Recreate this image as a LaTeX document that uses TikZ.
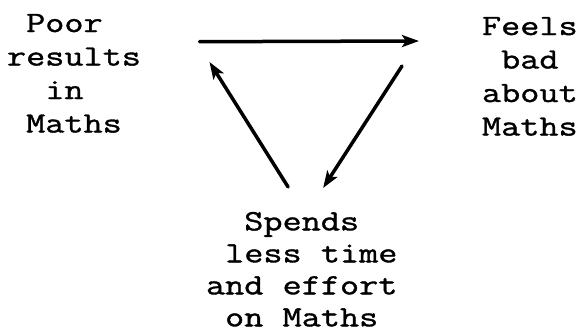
\documentclass[tikz,border=0pt]{standalone}
\usepackage{fontspec}
\setmonofont[FakeStretch=1.26, FakeBold=1.2]{Latin Modern Mono}
\usetikzlibrary{arrows.meta}
\newcommand{\chsp}{\hphantom{x}}

\begin{document}
\begin{tikzpicture}[
    x=1pt, y=1pt,
    every node/.style={inner sep=0pt, outer sep=0pt, align=left, anchor=north west,
        font=\ttfamily\fontsize{29.5}{33.5}\selectfont},
    arrow/.style={-{Stealth[length=17pt, width=12pt, inset=4pt]}, line width=3.5pt, line cap=round}
]
\useasboundingbox (0,0) rectangle (581,-332);

% Nodes
\node (poor) at (7,-14) {\chsp Poor\\results\\\chsp\chsp in\\\chsp Maths};
\node (feels) at (482,-17) {Feels\\\chsp bad\\about\\Maths};
\node (spends) [font=\ttfamily\fontsize{29.5}{32}\selectfont] at (206,-212) {\chsp\chsp Spends\\\chsp less time\\and effort\\\chsp on Maths};

% Edges
\draw[arrow] ([xshift=58.5pt, yshift=-27.7pt]poor.north east) -- ([xshift=-63pt, yshift=-24pt]feels.north west);
\draw[arrow] ([xshift=-80pt, yshift=-49pt]feels.north west) -- ([xshift=21.4pt, yshift=24pt]spends.north);
\draw[arrow] ([xshift=-13.6pt, yshift=25pt]spends.north) -- ([xshift=68.5pt, yshift=-48pt]poor.north east);

\end{tikzpicture}
\end{document}
